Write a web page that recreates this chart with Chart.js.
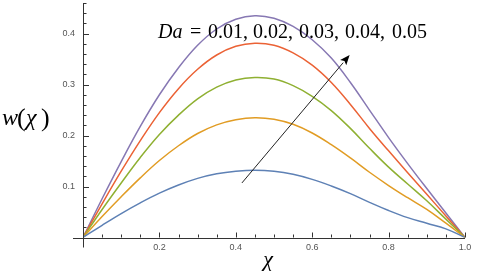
<!DOCTYPE html>
<html>
<head>
<meta charset="utf-8">
<script src="https://cdn.jsdelivr.net/npm/chart.js@4/dist/chart.umd.min.js"></script>
<style>
html,body{margin:0;padding:0;background:#fff;}
#wrap{width:478px;height:276px;position:relative;}
</style>
</head>
<body>
<div id="wrap"><canvas id="c" width="478" height="276"></canvas></div>
<script>
// chi positions
const chi = [0,0.05,0.1,0.15,0.2,0.25,0.3,0.35,0.4,0.45,0.5,0.55,0.6,0.65,0.7,0.75,0.8,0.85,0.9,0.95,1.0];
// w(chi) for Da = 0.01 ... 0.05
const wDa001 = [0,0.024,0.047,0.068,0.087,0.103,0.116,0.125,0.130,0.132,0.130,0.124,0.114,0.101,0.086,0.069,0.053,0.039,0.028,0.017,0];
const wDa002 = [0,0.041,0.080,0.117,0.151,0.180,0.204,0.221,0.231,0.235,0.232,0.222,0.205,0.182,0.156,0.128,0.102,0.078,0.055,0.028,0];
const wDa003 = [0,0.055,0.107,0.157,0.202,0.240,0.272,0.295,0.309,0.314,0.311,0.298,0.277,0.249,0.214,0.175,0.138,0.105,0.072,0.036,0];
const wDa004 = [0,0.066,0.130,0.190,0.245,0.292,0.330,0.358,0.375,0.381,0.377,0.362,0.338,0.304,0.261,0.214,0.170,0.127,0.085,0.042,0];
const wDa005 = [0,0.076,0.149,0.218,0.280,0.333,0.377,0.409,0.428,0.435,0.430,0.414,0.388,0.352,0.304,0.250,0.196,0.145,0.096,0.048,0];
const seriesNames = ['Da = 0.01','Da = 0.02','Da = 0.03','Da = 0.04','Da = 0.05'];
const seriesColors = ['#5E81B5','#E19C24','#8FB032','#EB6235','#8778B3'];
const xTickLabels = [0.2,0.4,0.6,0.8,1.0];
const yTickLabels = [0.1,0.2,0.3,0.4];
const daValues = ['0.01,','0.02,','0.03,','0.04,','0.05'];
// arrow in data units
const arrowFrom = {x:0.416, y:0.107};
const arrowTo = {x:0.698, y:0.358};

const allSeries = [wDa001,wDa002,wDa003,wDa004,wDa005];
const datasets = allSeries.map((s,i)=>({
  label: seriesNames[i],
  data: chi.map((c,j)=>({x:c,y:s[j]})),
  borderColor: seriesColors[i],
  borderWidth: 1.5,
  pointRadius: 0,
  fill: false,
  tension: 0.4
}));

const decor = {
  id:'decor',
  afterDraw(chart){
    const ctx = chart.ctx, xs = chart.scales.x, ys = chart.scales.y;
    const x0 = xs.getPixelForValue(0), y0 = ys.getPixelForValue(0);
    const ca = chart.chartArea;
    ctx.save();
    ctx.strokeStyle = '#333';
    ctx.lineWidth = 1;
    // axes
    ctx.beginPath();
    ctx.moveTo(Math.round(x0)+0.5, ca.top);
    ctx.lineTo(Math.round(x0)+0.5, y0+10);
    ctx.moveTo(x0-10, Math.round(y0)+0.5);
    ctx.lineTo(ca.right, Math.round(y0)+0.5);
    ctx.stroke();
    // x ticks
    ctx.beginPath();
    for(let i=1;i<=20;i++){
      const v=i*0.05, px=Math.round(xs.getPixelForValue(v))+0.5;
      const len = (i%4===0)?5:3;
      ctx.moveTo(px, y0); ctx.lineTo(px, y0-len);
    }
    // y ticks
    for(let i=1;i<=23;i++){
      const v=i*0.02; if(v>0.461) break;
      const py=Math.round(ys.getPixelForValue(v))+0.5;
      const len = (i%5===0)?6:3.5;
      ctx.moveTo(x0, py); ctx.lineTo(x0+len, py);
    }
    ctx.stroke();
    // arrow
    const ax1=xs.getPixelForValue(arrowFrom.x), ay1=ys.getPixelForValue(arrowFrom.y);
    const ax2=xs.getPixelForValue(arrowTo.x), ay2=ys.getPixelForValue(arrowTo.y);
    const ang=Math.atan2(ay2-ay1, ax2-ax1);
    const hl=10, hw=4;
    const bx=ax2-hl*Math.cos(ang), by=ay2-hl*Math.sin(ang);
    ctx.strokeStyle='#222'; ctx.lineWidth=1;
    ctx.beginPath(); ctx.moveTo(ax1,ay1); ctx.lineTo(bx,by); ctx.stroke();
    ctx.fillStyle='#000';
    ctx.beginPath();
    ctx.moveTo(ax2,ay2);
    ctx.lineTo(bx+hw*Math.sin(ang), by-hw*Math.cos(ang));
    ctx.lineTo(ax2-hl*0.8*Math.cos(ang), ay2-hl*0.8*Math.sin(ang));
    ctx.lineTo(bx-hw*Math.sin(ang), by+hw*Math.cos(ang));
    ctx.closePath(); ctx.fill();
    // annotation text
    ctx.fillStyle='#000';
    ctx.textBaseline='alphabetic';
    ctx.textAlign='left';
    ctx.font='italic 20px "Liberation Serif", serif';
    ctx.fillText('Da', 158, 38);
    ctx.font='20px "Liberation Serif", serif';
    ctx.fillText('=', 190, 38);
    const dx=[208,253,299,345,392];
    daValues.forEach((t,i)=>ctx.fillText(t, dx[i], 38));
    // y-axis label w(χ)
    ctx.font='italic 24px "Liberation Serif", serif';
    ctx.fillText('w', 2, 125);
    ctx.font='26px "Liberation Serif", serif';
    ctx.fillText('(', 17, 126);
    ctx.font='italic 24px "Liberation Serif", serif';
    ctx.fillText('χ', 26, 125);
    ctx.font='26px "Liberation Serif", serif';
    ctx.fillText(')', 41, 126);
    // x-axis label χ
    ctx.font='italic 22px "Liberation Serif", serif';
    ctx.textAlign='center';
    ctx.fillText('χ', 268, 266);
    ctx.restore();
  }
};

new Chart(document.getElementById('c'), {
  type:'line',
  data:{datasets},
  options:{
    responsive:false,
    animation:false,
    devicePixelRatio:1,
    layout:{padding:{top:3,right:13,left:0,bottom:0}},
    plugins:{legend:{display:false},tooltip:{enabled:false}},
    scales:{
      x:{
        type:'linear', min:0, max:1,
        grid:{display:false, drawTicks:false}, border:{display:false},
        afterBuildTicks:(s)=>{ s.ticks = xTickLabels.map(v=>({value:v})); },
        afterFit:(s)=>{ s.height = 38.5; s.paddingLeft=0; s.paddingRight=0; },
        ticks:{padding:5, color:'#555', font:{family:'"Liberation Sans", sans-serif', size:9}, callback:(v)=>Number(v).toFixed(1), maxRotation:0, autoSkip:false}
      },
      y:{
        type:'linear', min:0, max:0.46,
        grid:{display:false, drawTicks:false}, border:{display:false},
        afterBuildTicks:(s)=>{ s.ticks = yTickLabels.map(v=>({value:v})); },
        afterFit:(s)=>{ s.width = 83; s.paddingTop=0; s.paddingBottom=0; },
        ticks:{padding:8, color:'#555', font:{family:'"Liberation Sans", sans-serif', size:9}, callback:(v)=>Number(v).toFixed(1), autoSkip:false}
      }
    }
  },
  plugins:[decor]
});
</script>
</body>
</html>
